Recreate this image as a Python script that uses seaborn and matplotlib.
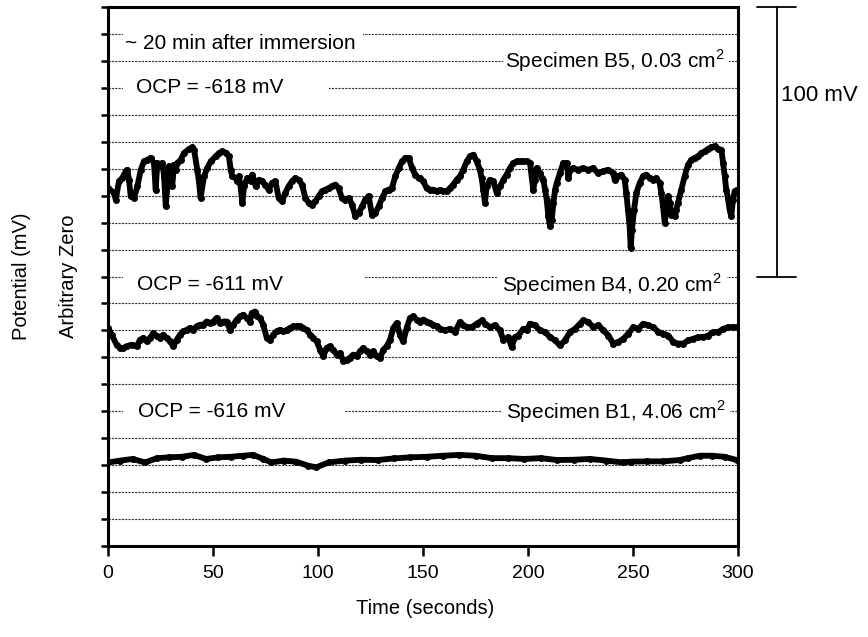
import numpy as np
import pandas as pd
import seaborn as sns
import matplotlib
matplotlib.use("Agg")
import matplotlib.pyplot as plt
from matplotlib.patches import Rectangle
import matplotlib.transforms as mtransforms

# ---------------- data ----------------
b5_time = [0, 2.9, 3.7, 5.2, 6.8, 8.4, 9.2, 10.0, 10.8, 12.4, 14.0, 15.6, 17.1, 18.7, 20.3,
           21.9, 22.7, 23.5, 25.1, 25.9, 26.7, 27.5, 28.3, 29.0, 29.8, 30.6, 31.4, 32.2, 33.0, 34.6,
           36.2, 38.6, 40.2, 41.0, 42.5, 43.3, 44.1, 45.7, 47.3, 48.9, 51.3, 52.9, 54.4, 56.0, 57.6,
           58.4, 59.2, 60.8, 61.6, 62.4, 63.2, 64.0, 64.8, 66.3, 67.9, 68.7, 70.3, 71.9,
           73.3, 74.9, 76.5, 78.1, 79.7, 81.3, 82.9, 84.4, 86.0, 87.6, 89.2, 90.8, 92.4, 94.0, 95.6,
           97.1, 98.7, 100.3, 101.9, 103.5, 105.1, 106.7, 108.3, 109.8, 111.4, 113.0, 114.6, 116.2,
           117.8, 119.4, 121.0, 122.5, 124.1, 125.7, 127.3, 128.9, 130.5, 132.1, 133.7, 135.2, 136.8,
           138.4, 140.0, 141.6, 143.2, 144.8, 146.3, 147.9,
           148.6, 150.2, 151.7, 153.3, 154.9, 156.5, 158.1, 159.7, 161.3, 162.9, 164.4, 166.0, 167.6,
           169.2, 170.8, 172.4, 174.0, 175.6, 177.1, 177.9, 178.7, 179.5, 180.3, 181.9, 183.5, 185.1,
           186.7, 188.3, 189.8, 191.4, 193.0, 194.6, 196.2, 197.8, 199.4, 201.0, 201.7, 202.5, 203.3,
           204.1, 205.7, 206.5, 207.3, 208.1, 208.9, 209.7, 210.5, 211.3, 212.1, 212.9, 213.7, 215.2,
           216.8, 218.4, 219.2, 220.0, 221.6,
           223.8, 226.2, 228.6, 231.0, 233.3, 235.7, 238.1, 240.5, 241.3, 242.9, 244.4, 246.0, 246.8,
           247.6, 248.4, 248.9, 249.5, 250.5, 251.6, 253.2, 254.8, 256.3, 257.9, 259.5, 261.1, 262.7,
           263.5, 264.3, 265.1, 265.9, 266.7, 267.5, 268.3, 269.8, 270.6, 271.4, 273.0, 274.6, 276.2,
           277.8, 279.4, 281.0, 282.5, 284.1, 285.7, 287.3, 288.9, 290.5, 292.1, 292.9, 293.7, 294.4,
           295.2, 296.0, 296.8, 297.6, 298.4, 299.7]
b5_mV = [132.8, 131.0, 128.5, 135.3, 136.5, 139.0, 139.6, 135.9, 129.8, 129.1, 133.5, 139.6, 142.7, 143.3, 144.0,
         142.1, 132.2, 142.1, 140.9, 142.1, 137.2, 126.0, 133.5, 140.9, 137.2, 133.5, 141.5, 139.6, 142.1, 143.3,
         145.8, 147.3, 147.9, 147.0, 139.6, 135.3, 129.1, 137.2, 140.2, 142.7, 144.6, 145.8, 146.4, 146.0, 144.6,
         139.6, 137.2, 136.5, 135.3, 137.2, 132.8, 127.3, 133.5, 136.5, 135.3, 137.8, 133.5, 135.9,
         135.3, 134.1, 132.2, 134.7, 135.3, 129.1, 127.9, 131.0, 133.5, 135.3, 136.5, 135.9, 134.1, 129.1, 127.3,
         126.7, 127.9, 129.8, 131.6, 132.2, 132.8, 133.5, 134.1, 132.8, 129.1, 128.5, 129.1, 126.7,
         122.3, 123.6, 126.0, 128.5, 129.8, 123.0, 123.6, 126.0, 129.1, 131.6, 132.2, 132.8, 137.2,
         140.2, 142.7, 144.0, 144.0, 140.2, 137.8, 136.5,
         136.5, 135.3, 132.8, 132.2, 132.2, 131.6, 132.2, 131.6, 131.6, 132.8, 134.1, 135.9, 137.2,
         139.6, 142.7, 144.6, 145.2, 142.7, 139.6, 136.5, 132.2, 127.3, 133.5, 135.9, 135.3, 131.0,
         133.5, 135.9, 137.8, 140.2, 142.1, 142.7, 142.7, 142.7, 142.7, 142.1, 137.2, 132.2, 135.9,
         140.2, 138.4, 136.5, 135.9, 132.2, 128.5, 122.3, 118.6, 121.1, 127.3, 132.2, 134.7, 138.4,
         142.1, 142.1, 136.5, 139.6, 140.2,
         139.6, 140.2, 139.6, 140.2, 138.4, 139.0, 139.6, 138.4, 135.9, 137.2, 137.8, 135.9, 131.0,
         124.8, 118.6, 110.5, 117.4, 124.8, 131.0, 134.7, 137.2, 137.8, 136.5, 135.9, 136.5, 134.7,
         131.0, 126.0, 119.9, 124.8, 129.8, 127.3, 123.0, 122.3, 124.8, 127.3, 132.2, 137.2, 141.5,
         143.3, 144.0, 144.6, 145.8, 146.4, 147.3, 148.0, 148.3, 147.3, 147.0, 142.1, 137.2, 132.2,
         129.1, 124.8, 122.3, 128.5, 131.6, 132.2]

b4_time = [0.2, 1.7, 4.1, 5.7, 7.3, 8.9, 11.3, 13.7, 15.2, 16.8, 18.4, 20.0, 21.6, 23.2, 24.8, 26.3,
           27.9, 29.5, 31.1, 32.7, 34.3, 35.9, 37.5, 39.0, 40.6, 42.2, 43.8, 45.4, 47.0, 48.6, 50.2,
           51.7, 53.3, 54.9, 56.5, 58.1, 59.7, 61.3, 62.9, 64.4, 66.0, 67.6, 68.4, 70.0, 70.8, 72.4,
           73.9, 75.6, 77.1, 78.7, 80.3, 81.9, 83.5, 85.1, 86.7, 88.3, 89.8, 91.4, 93.0, 94.6, 96.2,
           97.8, 99.4, 101.0, 102.5, 104.1, 105.7, 107.3, 108.9, 110.5, 112.1, 113.7, 115.2, 116.8,
           118.4, 120.0, 121.6, 123.2, 124.8, 126.3, 127.9, 129.5, 131.1, 132.7, 134.3, 135.9, 137.5,
           139.0, 140.6, 142.2, 143.8, 145.4, 147.0, 148.6, 150.2, 151.7, 153.3, 154.9, 156.5,
           158.1, 160.5, 162.9, 165.2, 167.6, 169.2, 170.8, 173.2, 175.6, 178.1, 179.5, 181.9, 184.3,
           186.7, 188.3, 190.6, 192.2, 193.8, 195.4, 197.8, 199.4, 200.9, 203.3, 205.7, 208.1, 210.5,
           212.9, 215.2, 217.6, 220.0, 222.4, 224.8, 226.3, 228.7, 231.1, 233.5, 235.9, 238.3, 240.6,
           243.0, 245.4, 247.8, 250.2, 252.5, 254.9, 257.3, 259.7, 262.1, 264.4, 266.8, 269.2, 271.6,
           274.0, 276.3, 278.7, 281.1, 283.5, 285.9, 288.3, 290.6, 293.0, 295.4, 297.8, 300.0]
b4_mV = [80.9, 78.4, 74.7, 73.5, 73.5, 74.1, 74.7, 74.1, 76.5, 77.2, 75.9, 77.2, 79.0, 77.8, 77.2, 78.4,
         77.2, 75.9, 74.1, 76.5, 78.4, 79.6, 80.2, 80.9, 80.2, 81.5, 82.1, 82.1, 83.3, 82.7, 83.3,
         84.6, 82.7, 83.3, 83.3, 80.2, 82.1, 84.0, 85.2, 85.8, 84.6, 83.3, 86.4, 87.0, 85.2, 84.6,
         82.1, 77.2, 76.5, 78.4, 79.6, 80.2, 79.6, 80.2, 80.9, 81.5, 81.5, 81.5, 80.9, 80.2, 78.4,
         77.2, 75.9, 72.8, 70.4, 73.5, 74.1, 72.8, 71.0, 71.6, 68.5, 69.1, 69.8, 71.0,
         70.4, 72.2, 73.5, 72.2, 71.0, 72.2, 70.4, 69.8, 72.8, 74.1, 76.5, 80.9, 82.7,
         78.4, 75.9, 80.9, 84.6, 85.2, 84.0, 83.3, 84.0, 83.3, 82.7, 82.1, 81.5,
         80.6, 80.0, 80.6, 79.4, 83.1, 81.9, 81.2, 81.2, 82.5, 83.7, 82.5, 81.2, 81.9,
         80.0, 76.3, 77.5, 73.8, 77.5, 78.1, 80.6, 80.0, 82.5, 81.9, 80.0, 79.4, 77.5,
         76.3, 74.4, 76.3, 79.4, 80.6, 82.5, 83.7, 83.1, 81.2, 81.9, 80.0, 78.1, 75.1,
         75.7, 76.9, 78.8, 81.2, 80.6, 82.5, 81.9, 81.2, 79.4, 78.8, 78.1, 75.7, 75.1,
         75.1, 76.3, 76.9, 77.5, 77.5, 78.1, 79.4, 79.4, 80.6, 81.2, 81.2, 81.2]

b1_time = [0, 5.9, 11.7, 17.6, 23.4, 29.2, 35.1, 40.9, 46.7, 52.6, 58.4, 64.2, 69.1, 74.0, 77.8,
           83.7, 89.5, 95.3, 99.2, 105.0, 112.8, 120.6, 128.4, 136.1, 143.9, 151.7, 159.5, 167.2,
           175.0, 182.8, 190.6, 198.3, 206.1, 213.9, 221.7, 229.4, 237.2, 245.0, 248.9, 256.6,
           264.4, 272.2, 276.1, 281.9, 287.7, 293.6, 299.4]
b1_mV = [31.0, 31.7, 32.3, 31.0, 32.6, 32.9, 33.1, 33.8, 32.3, 32.9, 33.1, 33.5, 33.8, 32.3, 31.0,
         31.7, 31.3, 29.8, 29.2, 31.0, 31.7, 32.0, 31.9, 32.5, 32.9, 33.1, 33.5, 33.8,
         33.5, 32.6, 32.6, 32.3, 32.6, 31.9, 32.0, 32.3, 31.7, 31.0, 31.3, 31.4,
         31.4, 31.9, 32.6, 33.5, 33.5, 33.1, 31.9]

x_ticks = [0, 50, 100, 150, 200, 250, 300]
y_ticks = list(range(0, 201, 10))
scale_bar_mV = [100, 200]

specimen_labels = ["Specimen B5, 0.03 cm$^\\mathregular{2}$",
                   "Specimen B4, 0.20 cm$^\\mathregular{2}$",
                   "Specimen B1, 4.06 cm$^\\mathregular{2}$"]
ocp_labels = ["OCP = -618 mV", "OCP = -611 mV", "OCP = -616 mV"]

# ---------------- figure ----------------
sns.set_theme(style="white")
plt.rcParams["font.family"] = ["Liberation Sans", "DejaVu Sans"]
plt.rcParams["mathtext.fontset"] = "custom"
plt.rcParams["mathtext.rm"] = "Liberation Sans"
plt.rcParams["text.color"] = "black"

fig = plt.figure(figsize=(8.68, 6.37), dpi=100)
ax = fig.add_axes([108 / 868, 1 - 546 / 637, 630 / 868, 539 / 637])

df = pd.concat([
    pd.DataFrame({"t": b5_time, "mV": b5_mV, "spec": "B5"}),
    pd.DataFrame({"t": b4_time, "mV": b4_mV, "spec": "B4"}),
    pd.DataFrame({"t": b1_time, "mV": b1_mV, "spec": "B1"}),
], ignore_index=True)

sns.lineplot(data=df, x="t", y="mV", hue="spec", units="spec", estimator=None, sort=False,
             palette=["black", "black", "black"], legend=False, linewidth=4.2,
             marker="o", markersize=5, markeredgewidth=0, ax=ax, zorder=3)
for ln in ax.lines:
    ln.set_solid_joinstyle("round")
    ln.set_solid_capstyle("round")

ax.set_xlim(0, 300)
ax.set_ylim(0, 200)
ax.set_xticks(x_ticks)
ax.set_yticks(y_ticks)
ax.set_yticklabels([])
ax.set_xlabel("")
ax.set_ylabel("")
ax.tick_params(axis="x", direction="out", length=7, width=1.8, pad=7, labelsize=14,
               colors="black", labelcolor="black", bottom=True)
ax.tick_params(axis="y", direction="out", length=5, width=1.8, left=True, colors="black")
for s in ax.spines.values():
    s.set_linewidth(2.2)
    s.set_color("black")

ax.grid(True, axis="y", linestyle=(0, (2, 1)), linewidth=0.8, color="#333333")
ax.grid(False, axis="x")
ax.set_axisbelow(True)

fs = 15
# white boxes that interrupt the grid behind the annotations (t0, t1, y0, y1)
boxes = [(7.1, 121.4, 182, 193), (7.1, 105.2, 165, 175.5), (188.1, 295.7, 175, 186),
         (7.1, 121.9, 92, 103), (185.2, 294.8, 92, 103), (7.1, 112.9, 45, 55), (187.6, 296.2, 45, 55)]
for t0, t1, y0, y1 in boxes:
    ax.add_patch(Rectangle((t0, y0), t1 - t0, y1 - y0, facecolor="white", edgecolor="none", zorder=1))

ax.text(8.1, 186.3, "~ 20 min after immersion", fontsize=fs, va="center", ha="left", zorder=4)
ax.text(13.3, 170, ocp_labels[0], fontsize=fs, va="center", ha="left", zorder=4)
ax.text(293.8, 180, specimen_labels[0], fontsize=fs, va="center", ha="right", zorder=4)
ax.text(13.8, 97, ocp_labels[1], fontsize=fs, va="center", ha="left", zorder=4)
ax.text(292.0, 97, specimen_labels[1], fontsize=fs, va="center", ha="right", zorder=4)
ax.text(14.3, 50, ocp_labels[2], fontsize=fs, va="center", ha="left", zorder=4)
ax.text(294.3, 50, specimen_labels[2], fontsize=fs, va="center", ha="right", zorder=4)

# scale bar outside the axes
tr = mtransforms.blended_transform_factory(ax.transAxes, ax.transData)
ax.plot([1.062, 1.062], scale_bar_mV, color="black", lw=1.3, transform=tr, clip_on=False)
ax.plot([1.030, 1.092], [scale_bar_mV[1]] * 2, color="black", lw=1.3, transform=tr, clip_on=False)
ax.plot([1.030, 1.092], [scale_bar_mV[0]] * 2, color="black", lw=1.3, transform=tr, clip_on=False)
ax.text(1.068, 167, "100 mV", fontsize=16, va="center", ha="left", transform=tr)

fig.text(425 / 868, 1 - 608 / 637, "Time (seconds)", fontsize=14.5, ha="center", va="center")
fig.text(22 / 868, 1 - 276 / 637, "Potential (mV)", fontsize=14.5, rotation=90, ha="center", va="center")
fig.text(69 / 868, 1 - 276 / 637, "Arbitrary Zero", fontsize=14.5, rotation=90, ha="center", va="center")

fig.savefig("out.png", dpi=100)
